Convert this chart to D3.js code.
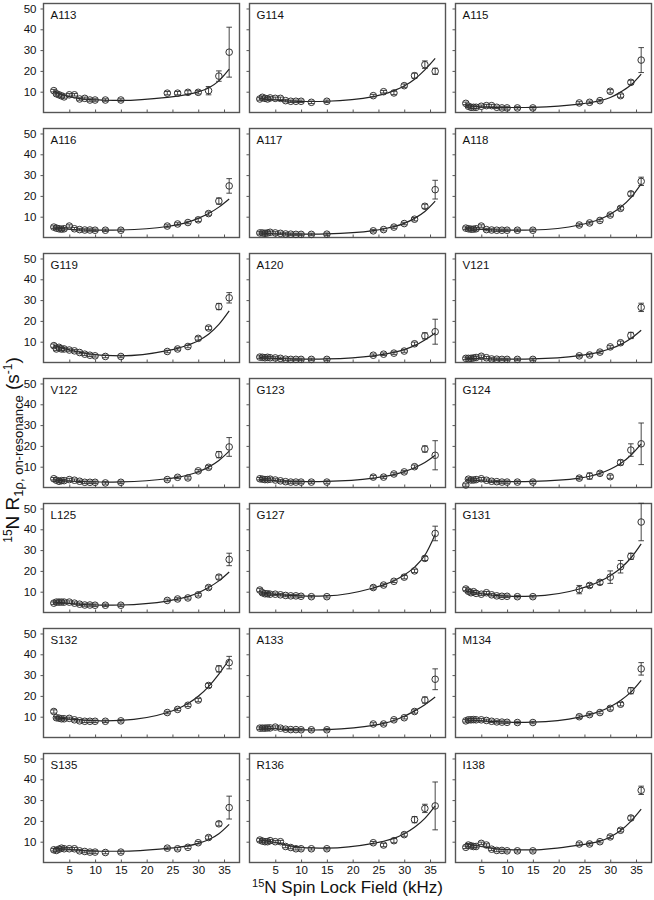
<!DOCTYPE html>
<html>
<head>
<meta charset="utf-8">
<script src="https://cdnjs.cloudflare.com/ajax/libs/d3/7.8.5/d3.min.js"></script>
<style>
body { margin: 0; background: #fff; }
svg text { font-family: "Liberation Sans", Arial, sans-serif; fill: #111; }
</style>
</head>
<body>
<div id="chart"></div>
<script>
// spin lock fields (kHz), shared by every residue
var fields = [2, 2.5, 3, 3.5, 4, 5, 6, 7, 8, 9, 10, 12, 15, 24, 26, 28, 30, 32, 34, 36];
var xTicks = [5, 10, 15, 20, 25, 30, 35];
var yTicks = [10, 20, 30, 40, 50];

var residues = ["A113", "G114", "A115", "A116", "A117", "A118", "G119", "A120", "V121",
  "V122", "G123", "G124", "L125", "G127", "G131", "S132", "A133", "M134", "S135", "R136", "I138"];

// measured R1rho (s-1)
var r_A113 = [10.5, 9, 8.5, 8, 7.5, 8.5, 8.5, 6.5, 6.8, 6, 6, 6, 6, 9.3, 9.3, 9.7, 9.7, 10.5, 17.5, 29];
var r_G114 = [6.5, 7.3, 6.8, 6.5, 7, 6.8, 6.8, 5.7, 5.4, 5.4, 5.4, 4.9, 5.4, 8.1, 10, 9.4, 12.9, 17.7, 23, 19.8];
var r_A115 = [4.4, 3, 2.5, 2.5, 2.5, 3, 3.3, 3.3, 2.5, 2.2, 2.2, 2.2, 2.2, 4.6, 4.9, 5.7, 10.2, 8.1, 14.5, 25.2];
var r_A116 = [5, 4.5, 4.2, 4, 4.2, 5.5, 4.2, 3.8, 3.6, 3.6, 3.5, 3.5, 3.5, 5.5, 6.5, 7.2, 8.5, 11.5, 17.5, 24.8];
var r_A117 = [2.2, 2.2, 2, 2.2, 2.5, 2.2, 2, 1.7, 1.6, 1.5, 1.5, 1.5, 1.6, 3.2, 3.8, 5, 6.7, 8.8, 15, 23];
var r_A118 = [4.5, 4.2, 4, 4, 4.2, 5.5, 3.8, 3.6, 3.5, 3.5, 3.5, 3.5, 3.5, 6, 7, 8.2, 10.8, 14, 21, 27];
var r_G119 = [8.1, 6.5, 7.3, 6.5, 6.5, 6, 5.6, 4.8, 4, 3.5, 3.2, 2.9, 2.9, 5.3, 6.5, 7.7, 11.6, 16.6, 26.9, 31.1];
var r_A120 = [2.6, 2.5, 2.3, 2.5, 2.3, 2.2, 2, 1.6, 1.5, 1.5, 1.5, 1.5, 1.5, 3.5, 4, 4.5, 5.5, 9, 12.8, 14.8];
var r_V121 = [2, 2, 2, 2.2, 2.4, 3, 2.3, 1.7, 1.6, 1.5, 1.5, 1.5, 1.5, 3.2, 3.6, 5, 7.5, 9.5, 13, 26.5];
var r_V122 = [4.2, 3.5, 3, 3.3, 3.3, 3.8, 3.5, 3, 2.5, 2.5, 2.5, 2.2, 2.5, 3.8, 4.9, 4.6, 8, 9.7, 15.8, 19.5];
var r_G123 = [4.2, 4, 3.8, 3.8, 4, 3.6, 3.2, 2.8, 2.6, 2.6, 2.6, 2.6, 2.6, 5, 5, 6.5, 7.5, 10, 18.5, 15.5];
var r_G124 = [1.2, 4, 3.6, 3.6, 3.8, 4.2, 3.5, 3, 2.8, 2.6, 2.6, 2.6, 2.6, 4.5, 5.5, 6.8, 5.2, 12, 18, 21];
var r_L125 = [4.5, 5, 5, 5, 5, 5, 4.5, 4, 3.6, 3.6, 3.5, 3.5, 3.5, 5.8, 6.5, 7, 8.5, 12, 17, 25.5];
var r_G127 = [10.8, 9.5, 9, 9, 8.8, 8.8, 8.5, 8.2, 8, 8, 7.8, 7.6, 7.6, 12, 13.2, 15, 17, 20, 26, 38];
var r_G131 = [11.3, 10.2, 9.5, 10, 9.2, 8.8, 9.5, 8.5, 8, 7.8, 7.8, 7.6, 7.6, 11, 13, 14.5, 17, 22, 27, 43.5];
var r_S132 = [12.5, 9.5, 9.3, 9, 9, 9.2, 8.5, 8, 7.8, 7.8, 7.8, 7.8, 8, 12, 13.5, 15.5, 18, 25, 33, 36];
var r_A133 = [4.5, 4.5, 4.5, 4.6, 4.6, 5, 4.5, 4, 3.8, 3.8, 3.7, 3.7, 3.7, 6.5, 6.5, 8.5, 9.5, 12.5, 18, 28];
var r_M134 = [8, 8.5, 8.5, 8.6, 8.5, 8.5, 8.2, 7.8, 7.5, 7.4, 7.3, 7.2, 7.2, 10, 11, 12, 14, 16, 22.5, 33];
var r_S135 = [6.1, 5.8, 6.4, 6.9, 6.6, 6.6, 6.6, 5.6, 5.3, 5, 5, 4.8, 5, 6.9, 6.6, 7.3, 9.5, 12, 18.6, 26.4];
var r_R136 = [10.8, 10.3, 10, 10, 10.5, 10, 10, 7.7, 7.2, 6.6, 6.6, 6.6, 6.6, 9.5, 8.4, 10.5, 13.4, 20.6, 26, 27.2];
var r_I138 = [7.3, 8.4, 8, 7.7, 7.7, 9.2, 8.4, 6.4, 5.8, 5.8, 5.6, 5.6, 5.6, 8.9, 8.9, 10, 12.3, 15.5, 21.4, 34.7];

// error bars (+/-)
var e_A113 = [0.6, 0.6, 0.6, 0.6, 0.6, 0.6, 0.6, 0.6, 0.6, 0.6, 0.6, 0.6, 0.6, 0.8, 0.8, 0.8, 0.8, 2, 2.5, 12];
var e_G114 = [0.6, 0.6, 0.6, 0.6, 0.6, 0.6, 0.6, 0.6, 0.6, 0.6, 0.6, 0.6, 0.6, 0.6, 0.6, 0.8, 0.8, 1.2, 1.8, 1.5];
var e_A115 = [0.6, 0.6, 0.6, 0.6, 0.6, 0.6, 0.6, 0.6, 0.6, 0.6, 0.6, 0.6, 0.6, 0.6, 0.6, 0.6, 0.8, 0.8, 1, 6];
var e_A116 = [0.6, 0.6, 0.6, 0.6, 0.6, 0.6, 0.6, 0.6, 0.6, 0.6, 0.6, 0.6, 0.6, 0.6, 0.6, 0.6, 0.8, 0.8, 1.5, 3.5];
var e_A117 = [0.6, 0.6, 0.6, 0.6, 0.6, 0.6, 0.6, 0.6, 0.6, 0.6, 0.6, 0.6, 0.6, 0.6, 0.6, 0.6, 0.6, 0.8, 1, 4.5];
var e_A118 = [0.6, 0.6, 0.6, 0.6, 0.6, 0.6, 0.6, 0.6, 0.6, 0.6, 0.6, 0.6, 0.6, 0.6, 0.6, 0.6, 0.6, 0.8, 1, 2];
var e_G119 = [0.8, 0.8, 0.8, 0.8, 0.6, 0.6, 0.6, 0.6, 0.6, 0.6, 0.6, 0.6, 0.6, 0.6, 0.6, 0.6, 0.8, 0.8, 1.5, 2.5];
var e_A120 = [0.6, 0.6, 0.6, 0.6, 0.6, 0.6, 0.6, 0.6, 0.6, 0.6, 0.6, 0.6, 0.6, 0.6, 0.6, 0.6, 0.6, 0.8, 1.5, 6];
var e_V121 = [0.6, 0.6, 0.6, 0.6, 0.6, 0.6, 0.6, 0.6, 0.6, 0.6, 0.6, 0.6, 0.6, 0.6, 0.6, 0.6, 0.6, 0.8, 1.5, 2];
var e_V122 = [0.6, 0.6, 0.6, 0.6, 0.6, 0.6, 0.6, 0.6, 0.6, 0.6, 0.6, 0.6, 0.6, 0.6, 0.6, 0.6, 0.6, 0.8, 1.5, 4.5];
var e_G123 = [0.6, 0.6, 0.6, 0.6, 0.6, 0.6, 0.6, 0.6, 0.6, 0.6, 0.6, 0.6, 0.6, 0.8, 0.6, 0.6, 0.6, 0.8, 1.5, 7];
var e_G124 = [0.6, 0.6, 0.6, 0.6, 0.6, 0.6, 0.6, 0.6, 0.6, 0.6, 0.6, 0.6, 0.6, 0.8, 1.5, 0.8, 0.8, 1.2, 3, 10];
var e_L125 = [0.6, 0.6, 0.6, 0.6, 0.6, 0.6, 0.6, 0.6, 0.6, 0.6, 0.6, 0.6, 0.6, 0.6, 0.6, 0.6, 0.6, 0.8, 1, 3];
var e_G127 = [0.8, 0.8, 0.6, 0.6, 0.6, 0.6, 0.6, 0.6, 0.6, 0.6, 0.6, 0.6, 0.6, 0.8, 0.6, 0.6, 0.8, 0.8, 1, 3.5];
var e_G131 = [0.8, 0.8, 0.6, 0.6, 0.6, 0.6, 0.6, 0.6, 0.6, 0.6, 0.6, 0.6, 0.6, 2, 1, 1, 3, 3, 1.5, 9];
var e_S132 = [0.8, 0.6, 0.6, 0.6, 0.6, 0.6, 0.6, 0.6, 0.6, 0.6, 0.6, 0.6, 0.6, 0.6, 0.6, 0.6, 0.8, 1, 1.5, 3];
var e_A133 = [0.6, 0.6, 0.6, 0.6, 0.6, 0.6, 0.6, 0.6, 0.6, 0.6, 0.6, 0.6, 0.6, 0.6, 0.6, 0.6, 0.6, 0.8, 1.5, 5];
var e_M134 = [0.6, 0.6, 0.6, 0.6, 0.6, 0.6, 0.6, 0.6, 0.6, 0.6, 0.6, 0.6, 0.6, 0.8, 0.6, 0.6, 0.8, 0.8, 1.5, 3];
var e_S135 = [0.6, 0.6, 0.6, 0.6, 0.6, 0.6, 0.6, 0.6, 0.6, 0.6, 0.6, 0.6, 0.6, 0.6, 0.6, 0.6, 0.6, 0.8, 1, 5.5];
var e_R136 = [0.8, 0.6, 0.6, 0.6, 0.6, 0.6, 0.6, 0.6, 0.6, 0.6, 0.6, 0.6, 0.6, 0.6, 0.8, 1, 0.8, 1.5, 2, 11.5];
var e_I138 = [0.6, 0.6, 0.6, 0.6, 0.6, 0.6, 0.6, 0.6, 0.6, 0.6, 0.6, 0.6, 0.6, 0.6, 0.6, 0.6, 0.8, 0.8, 1, 2];

// fitted curve, at the same fields
var f_A113 = [10.5, 9.8, 9.2, 8.7, 8.3, 7.6, 7.1, 6.7, 6.4, 6.2, 6.1, 5.9, 5.8, 7.3, 7.9, 8.7, 9.9, 11.8, 15.2, 20.8];
var f_G114 = [6.6, 6.5, 6.4, 6.3, 6.2, 6.0, 5.8, 5.6, 5.5, 5.4, 5.3, 5.3, 5.4, 7.6, 8.8, 10.5, 12.7, 16, 20.5, 26];
var f_A115 = [3.3, 3.2, 3.1, 3.0, 2.9, 2.7, 2.6, 2.5, 2.4, 2.4, 2.4, 2.4, 2.5, 4.0, 4.7, 5.7, 7.2, 9.8, 13.2, 18.5];
var f_A116 = [4.6, 4.5, 4.4, 4.3, 4.2, 4.0, 3.8, 3.7, 3.6, 3.5, 3.5, 3.5, 3.6, 5.3, 6.2, 7.4, 9.2, 11.5, 14.6, 18.5];
var f_A117 = [2.2, 2.1, 2.0, 2.0, 1.9, 1.8, 1.8, 1.7, 1.6, 1.6, 1.6, 1.6, 1.7, 3.3, 4.1, 5.2, 6.8, 9.2, 12.5, 17.5];
var f_A118 = [4.3, 4.2, 4.1, 4.0, 4.0, 3.9, 3.8, 3.7, 3.6, 3.5, 3.5, 3.5, 3.6, 6.0, 7.2, 8.8, 11.2, 14.5, 19.2, 25.8];
var f_G119 = [8.2, 7.8, 7.4, 7.0, 6.7, 6.1, 5.5, 5.0, 4.5, 4.1, 3.8, 3.4, 3.2, 5.7, 6.8, 8.4, 10.5, 13.6, 18.3, 24.8];
var f_A120 = [2.4, 2.3, 2.2, 2.2, 2.1, 2.0, 1.9, 1.8, 1.7, 1.6, 1.6, 1.6, 1.7, 3.2, 3.9, 4.9, 6.2, 8.1, 10.8, 14.2];
var f_V121 = [2.1, 2.0, 2.0, 1.9, 1.9, 1.8, 1.8, 1.7, 1.6, 1.6, 1.6, 1.6, 1.7, 3.3, 4.0, 5.1, 6.6, 8.6, 11.5, 15.5];
var f_V122 = [3.6, 3.5, 3.4, 3.3, 3.2, 3.1, 3.0, 2.9, 2.8, 2.7, 2.7, 2.6, 2.7, 4.2, 4.9, 6.0, 7.6, 9.8, 13.0, 17.5];
var f_G123 = [3.9, 3.8, 3.7, 3.6, 3.5, 3.3, 3.1, 3.0, 2.9, 2.8, 2.8, 2.8, 2.9, 4.5, 5.2, 6.2, 7.6, 9.5, 12.0, 15.5];
var f_G124 = [3.8, 3.7, 3.6, 3.5, 3.4, 3.2, 3.1, 3.0, 2.9, 2.8, 2.8, 2.8, 2.9, 4.5, 5.4, 6.8, 8.8, 11.5, 15.5, 21];
var f_L125 = [5.0, 4.9, 4.8, 4.7, 4.6, 4.4, 4.2, 4.0, 3.8, 3.7, 3.6, 3.5, 3.6, 5.5, 6.4, 7.6, 9.5, 12.0, 15.2, 19.5];
var f_G127 = [9.5, 9.3, 9.2, 9.0, 8.9, 8.7, 8.5, 8.3, 8.2, 8.1, 8.0, 7.9, 8.0, 11.8, 13.3, 15.3, 18.0, 21.8, 27.5, 37.5];
var f_G131 = [10.3, 10.0, 9.8, 9.6, 9.4, 9.0, 8.7, 8.4, 8.2, 8.0, 7.9, 7.8, 7.9, 11.3, 12.9, 15.0, 17.7, 21.3, 26.2, 33.0];
var f_S132 = [9.5, 9.4, 9.3, 9.2, 9.1, 8.9, 8.7, 8.5, 8.3, 8.2, 8.1, 8.0, 8.2, 12.0, 13.8, 16.3, 19.8, 24.5, 30.5, 37.5];
var f_A133 = [4.6, 4.5, 4.5, 4.4, 4.3, 4.2, 4.0, 3.9, 3.8, 3.7, 3.7, 3.6, 3.8, 5.8, 6.8, 8.2, 10.2, 12.8, 15.8, 19.5];
var f_M134 = [8.4, 8.3, 8.3, 8.2, 8.2, 8.0, 7.9, 7.7, 7.6, 7.5, 7.4, 7.3, 7.4, 9.8, 11.0, 12.6, 14.8, 17.8, 21.8, 27.5];
var f_S135 = [6.9, 6.8, 6.7, 6.6, 6.5, 6.3, 6.1, 5.9, 5.7, 5.6, 5.5, 5.4, 5.4, 6.8, 7.3, 8.0, 9.2, 10.9, 13.8, 18.3];
var f_R136 = [10.8, 10.6, 10.4, 10.2, 10.0, 9.6, 9.1, 8.5, 8.0, 7.6, 7.3, 7.0, 6.9, 9.2, 10.2, 11.6, 13.8, 16.9, 21.2, 27.2];
var f_I138 = [9.2, 8.9, 8.6, 8.3, 8.1, 7.7, 7.3, 6.9, 6.6, 6.3, 6.2, 6.1, 6.1, 8.4, 9.2, 10.3, 12.3, 15.4, 19.8, 25.6];

var measured = [r_A113, r_G114, r_A115, r_A116, r_A117, r_A118, r_G119, r_A120, r_V121, r_V122, r_G123,
  r_G124, r_L125, r_G127, r_G131, r_S132, r_A133, r_M134, r_S135, r_R136, r_I138];
var errors = [e_A113, e_G114, e_A115, e_A116, e_A117, e_A118, e_G119, e_A120, e_V121, e_V122, e_G123,
  e_G124, e_L125, e_G127, e_G131, e_S132, e_A133, e_M134, e_S135, e_R136, e_I138];
var fits = [f_A113, f_G114, f_A115, f_A116, f_A117, f_A118, f_G119, f_A120, f_V121, f_V122, f_G123,
  f_G124, f_L125, f_G127, f_G131, f_S132, f_A133, f_M134, f_S135, f_R136, f_I138];

var W = 654, H = 900;
var pw = 196, ph = 109;
var colX = [43.5, 249.5, 455.5];
var rowTop = 3.5, rowStep = 125;
var ink = "#222", frame = "#555";

var svg = d3.select("#chart").append("svg")
  .attr("width", W)
  .attr("height", H);

var x = d3.scaleLinear().domain([0, 38]).range([0, pw]);
var y = d3.scaleLinear().domain([0, 52.4]).range([ph, 0]);

var fitLine = d3.line()
  .curve(d3.curveMonotoneX)
  .x(function(d) { return x(d[0]); })
  .y(function(d) { return y(d[1]); });

for (var i = 0; i < residues.length; i++) {
  var col = i % 3, row = Math.floor(i / 3);
  var g = svg.append("g")
    .attr("transform", "translate(" + colX[col] + "," + (rowTop + row * rowStep) + ")");

  // y ticks (labels only on the left column)
  var yAxis = d3.axisLeft(y).tickValues(yTicks).tickSize(3).tickSizeOuter(0);
  if (col > 0) yAxis.tickFormat("");
  var ya = g.append("g").call(yAxis);
  ya.select(".domain").remove();
  ya.selectAll("line").attr("stroke", frame);
  ya.selectAll("text").attr("font-size", 11.5).attr("dx", "-1").style("font-family", "Liberation Sans, Arial, sans-serif").attr("fill", "#111");

  // x ticks point inward, labels on the bottom row
  var xAxis = d3.axisBottom(x).tickValues(xTicks).tickSize(-3).tickSizeOuter(0);
  if (row < 6) xAxis.tickFormat("");
  var xa = g.append("g").attr("transform", "translate(0," + ph + ")").call(xAxis);
  xa.select(".domain").remove();
  xa.selectAll("line").attr("stroke", frame);
  xa.selectAll("text").attr("font-size", 11.5).attr("dy", "0.72em").style("font-family", "Liberation Sans, Arial, sans-serif").attr("fill", "#111");

  // frame
  g.append("rect")
    .attr("width", pw)
    .attr("height", ph)
    .attr("fill", "none")
    .attr("stroke", frame)
    .attr("stroke-width", 1.4);

  g.append("text")
    .attr("x", 7)
    .attr("y", 15)
    .attr("font-size", 11.5)
    .text(residues[i]);

  var pts = fields.map(function(f, j) { return {x: f, y: measured[i][j], e: errors[i][j]}; });
  var curve = fields.map(function(f, j) { return [f, fits[i][j]]; });

  g.append("path")
    .datum(curve)
    .attr("fill", "none")
    .attr("stroke", ink)
    .attr("stroke-width", 1.2)
    .attr("d", fitLine);

  var bars = g.append("g").attr("stroke", "#333").attr("stroke-width", 0.9);
  bars.selectAll(".v").data(pts).enter().append("line")
    .attr("x1", function(d) { return x(d.x); })
    .attr("x2", function(d) { return x(d.x); })
    .attr("y1", function(d) { return y(d.y - d.e); })
    .attr("y2", function(d) { return y(d.y + d.e); });
  bars.selectAll(".cap").data(pts.concat(pts)).enter().append("line")
    .attr("x1", function(d) { return x(d.x) - 2.8; })
    .attr("x2", function(d) { return x(d.x) + 2.8; })
    .attr("y1", function(d, k) { return k < pts.length ? y(d.y - d.e) : y(d.y + d.e); })
    .attr("y2", function(d, k) { return k < pts.length ? y(d.y - d.e) : y(d.y + d.e); });

  g.selectAll("circle").data(pts).enter().append("circle")
    .attr("cx", function(d) { return x(d.x); })
    .attr("cy", function(d) { return y(d.y); })
    .attr("r", 3.3)
    .attr("fill", "none")
    .attr("stroke", "#333")
    .attr("stroke-width", 1);
}

// axis titles
var xt = svg.append("text")
  .attr("x", colX[1] + pw / 2)
  .attr("y", 893)
  .attr("text-anchor", "middle")
  .attr("font-size", 17);
xt.append("tspan").attr("font-size", 11).attr("dy", -6).text("15");
xt.append("tspan").attr("dy", 6).text("N Spin Lock Field (kHz)");

var yt = svg.append("text")
  .attr("transform", "translate(19," + 450 + ") rotate(-90)")
  .attr("text-anchor", "middle")
  .attr("font-size", 19);
yt.append("tspan").attr("font-size", 12).attr("dy", -7).text("15");
yt.append("tspan").attr("dy", 7).text("N R");
yt.append("tspan").attr("font-size", 13).attr("dy", 4).text("1\u03c1, on-resonance");
yt.append("tspan").attr("dy", -4).text(" (s");
yt.append("tspan").attr("font-size", 12).attr("dy", -7).text("-1");
yt.append("tspan").attr("dy", 7).text(")");
</script>
</body>
</html>
